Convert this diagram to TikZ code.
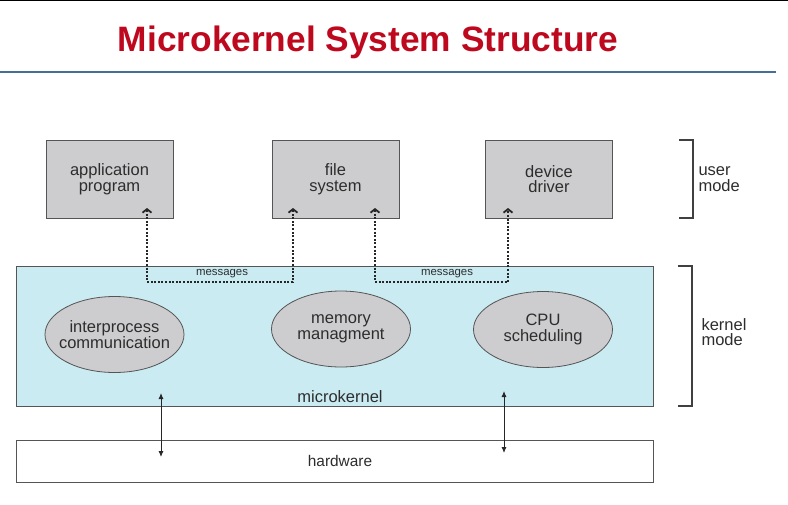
\documentclass[tikz,border=0pt]{standalone}
\usepackage{fontspec}
\setmainfont{Liberation Sans}
\usetikzlibrary{shapes.geometric, arrows.meta, positioning}
\definecolor{titlered}{RGB}{190,8,30}
\definecolor{ruleblue}{RGB}{70,110,150}
\definecolor{boxgray}{RGB}{205,205,207}
\definecolor{edgegray}{RGB}{85,85,85}
\definecolor{kernblue}{RGB}{203,235,242}
\definecolor{txtgray}{RGB}{45,45,45}

\begin{document}
\begin{tikzpicture}[x=1pt, y=-1pt,
  every node/.style={text=txtgray, align=center, font=\fontsize{16.5}{15.5}\selectfont},
  usrbox/.style={rectangle, draw=edgegray, fill=boxgray, line width=1pt, minimum width=127pt, minimum height=78pt, inner sep=0pt},
  svc/.style={ellipse, draw=edgegray, fill=boxgray, line width=0.8pt, minimum width=139pt, minimum height=76pt, inner xsep=-7pt, inner ysep=0pt},
  msg/.style={{Straight Barb[length=3.5pt, width=9pt]}-{Straight Barb[length=3.5pt, width=9pt]}, line width=1.8pt, dash pattern=on 2pt off 1.6pt, black!85},
  hwlink/.style={{Latex[length=6pt, width=5pt]}-{Latex[length=6pt, width=5pt]}, line width=0.9pt, black!85},
  brk/.style={draw=black!75, line width=1.1pt},
  lbl/.style={font=\fontsize{11.4}{12}\selectfont}]
\useasboundingbox (0,0) rectangle (788,504);
% header
\draw[black, line width=1.2pt] (0,0.6) -- (788,0.6);
\draw[ruleblue, line width=2pt] (0,72) -- (776,72);
\node[text=titlered, font=\fontsize{35.3}{40}\selectfont\bfseries] (title) at (368,42) {Microkernel System Structure};
% user mode
\node[usrbox] (app) at (109.5,179) {application\\program};
\node[usrbox] (fs) at (335.5,179) {file\\system};
\node[usrbox] (dev) at (549,179) {device\\driver};
% kernel and hardware
\node[rectangle, draw=edgegray, fill=kernblue, line width=1pt, minimum width=637pt, minimum height=140pt] (kern) at (334.5,336.5) {};
\node[rectangle, draw=edgegray, fill=white, line width=1pt, minimum width=637pt, minimum height=42pt] (hw) at (334.5,461.5) {};
\node[font=\fontsize{15.4}{15}\selectfont] (hwtext) at (340,461) {hardware};
\node (kerntext) at (340,397) {microkernel};
\node[svc] (ipc) at (114.5,334.5) {interprocess\\communication};
\node[svc] (mem) at (341,329) {memory\\managment};
\node[svc] (cpu) at (543,329.5) {CPU\\scheduling};
% messages
\coordinate (appin) at (147,208);
\coordinate (fsinl) at (293,208);
\coordinate (fsinr) at (375,208);
\coordinate (devin) at (508,208);
\coordinate (m1) at (147,282);
\coordinate (m2) at (375,282);
\draw[msg] (appin) -- (m1) -| (fsinl);
\draw[msg] (fsinr) -- (m2) -| (devin);
\node[lbl] (msg1) at (222,273.5) {messages};
\node[lbl] (msg2) at (447,273.5) {messages};
% kernel <-> hardware
\coordinate (k1) at (161,393);
\coordinate (h1) at (161,457);
\coordinate (k2) at (504,391);
\coordinate (h2) at (504,453);
\draw[hwlink] (k1) -- (h1);
\draw[hwlink] (k2) -- (h2);
% modes
\draw[brk] (679,140) -- (693,140) -- (693,218) -- (679,218);
\draw[brk] (678,266) -- (692,266) -- (692,406) -- (678,406);
\node[anchor=west, align=left] (usr) at (695,179) {user\\mode};
\node[anchor=west, align=left] (krn) at (698,332) {kernel\\mode};
\end{tikzpicture}
\end{document}
